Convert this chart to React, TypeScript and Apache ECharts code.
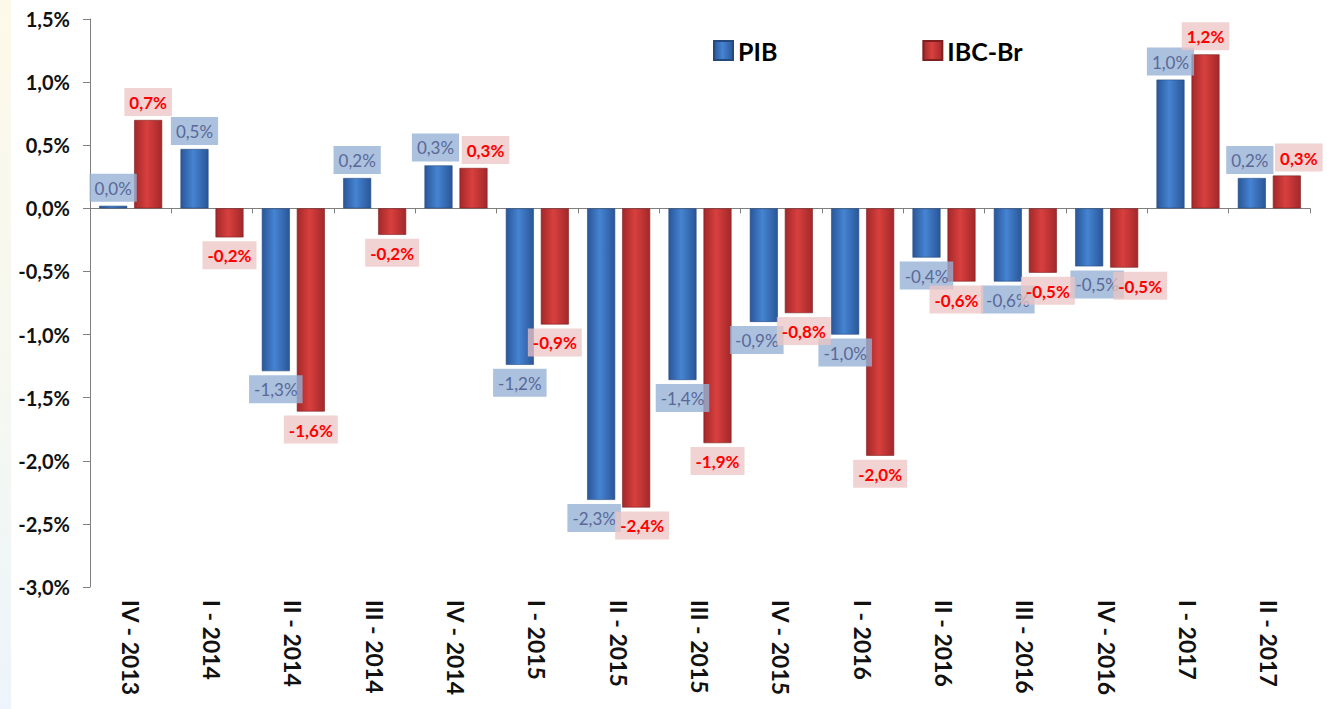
import React, { useEffect, useRef } from "react";
import * as echarts from "echarts";

const categories = [
  "IV - 2013", "I - 2014", "II - 2014", "III - 2014", "IV - 2014",
  "I - 2015", "II - 2015", "III - 2015", "IV - 2015", "I - 2016",
  "II - 2016", "III - 2016", "IV - 2016", "I - 2017", "II - 2017",
];
const pibValues = [0.02, 0.47, -1.29, 0.24, 0.34, -1.24, -2.31, -1.36, -0.9, -1.0, -0.39, -0.58, -0.46, 1.02, 0.24];
const ibcValues = [0.7, -0.23, -1.61, -0.21, 0.32, -0.92, -2.37, -1.86, -0.83, -1.96, -0.58, -0.51, -0.47, 1.22, 0.26];
const yMin = -3;
const yMax = 1.5;
const yStep = 0.5;

// label nudges (style only), keyed by category index
const pibLabelShift: Record<number, number> = { 4: -3, 6: -7, 8: -7, 11: 0, 12: 8, 14: -2 };
const ibcLabelShift: Record<number, number> = { 4: 12, 6: 6, 8: 5, 10: -5, 11: 5, 12: 16, 14: 12 };

const fmt = (v: number) => v.toFixed(1).replace(".", ",") + "%";
const FONT = "Lato, 'Open Sans', sans-serif";

const grad = (edge: string, mid: string) =>
  new echarts.graphic.LinearGradient(0, 0, 1, 0, [
    { offset: 0, color: edge },
    { offset: 0.45, color: mid },
    { offset: 1, color: edge },
  ]);

export default function App() {
  const ref = useRef<HTMLDivElement>(null);
  useEffect(() => {
    if (!ref.current) return;
    const chart = echarts.init(ref.current, null, { renderer: "svg" });
    const mkData = (vals: number[], shift: Record<number, number>) =>
      vals.map((v, i) => ({
        value: v,
        label: { position: v >= 0 ? "top" : "bottom", offset: [shift[i] || 0, 0] },
      }));
    chart.setOption({
      animation: false,
      backgroundColor: "#ffffff",
      graphic: [
        {
          type: "rect",
          left: 0,
          top: 0,
          shape: { x: 0, y: 0, width: 11, height: 709 },
          style: {
            fill: new echarts.graphic.LinearGradient(0, 0, 0, 1, [
              { offset: 0, color: "#fdf9ea" },
              { offset: 0.5, color: "#f6f8f0" },
              { offset: 1, color: "#edf4fb" },
            ]),
          },
          silent: true,
        },
      ],
      legend: {
        left: 708,
        top: 33,
        itemWidth: 19,
        itemHeight: 19,
        itemGap: 145,
        icon: "rect",
        textStyle: { fontFamily: FONT, fontWeight: "bold", fontSize: 25, color: "#000" },
        data: ["PIB", "IBC-Br"],
      },
      grid: { left: 90, right: 17, top: 19, bottom: 122, containLabel: false },
      xAxis: [
        {
          type: "category",
          data: categories,
          axisLine: { onZero: true, lineStyle: { color: "#7f7f7f", width: 1 } },
          axisTick: { show: true, length: 5, lineStyle: { color: "#7f7f7f" } },
          axisLabel: { show: false },
        },
        {
          type: "category",
          data: categories,
          position: "bottom",
          axisLine: { show: false, onZero: false },
          axisTick: { show: false },
          axisLabel: {
            rotate: -90,
            margin: 13,
            fontFamily: FONT,
            fontWeight: "bold",
            fontSize: 23,
            color: "#111",
          },
        },
      ],
      yAxis: {
        type: "value",
        min: yMin,
        max: yMax,
        interval: yStep,
        axisLine: { show: true, lineStyle: { color: "#7f7f7f" } },
        axisTick: { show: true, length: 7, lineStyle: { color: "#7f7f7f" } },
        splitLine: { show: false },
        axisLabel: {
          formatter: (v: number) => fmt(v),
          fontFamily: FONT,
          fontWeight: "bold",
          fontSize: 20,
          color: "#111",
          margin: 20,
        },
      },
      series: [
        {
          name: "PIB",
          type: "bar",
          xAxisIndex: 0,
          barWidth: 28,
          barGap: "25%",
          data: mkData(pibValues, pibLabelShift),
          itemStyle: { color: grad("#2a5698", "#4584d2"), borderColor: "#23497f", borderWidth: 0.6 },
          label: {
            show: true,
            distance: 4,
            formatter: (p: any) => fmt(p.value),
            fontFamily: FONT,
            fontSize: 17,
            color: "#5a6898",
            backgroundColor: "rgba(150,178,214,0.8)",
            padding: [6, 5, 5, 5],
          },
        },
        {
          name: "IBC-Br",
          type: "bar",
          xAxisIndex: 0,
          barWidth: 28,
          data: mkData(ibcValues, ibcLabelShift),
          itemStyle: { color: grad("#a3282a", "#d8403e"), borderColor: "#7e2020", borderWidth: 0.6 },
          label: {
            show: true,
            distance: 4,
            formatter: (p: any) => fmt(p.value),
            fontFamily: FONT,
            fontWeight: "bold",
            fontSize: 17,
            color: "#ff0000",
            backgroundColor: "rgba(236,196,196,0.75)",
            padding: [6, 5, 5, 5],
          },
        },
      ],
    });
    return () => chart.dispose();
  }, []);
  return (
    <div
      ref={ref}
      style={{ position: "fixed", left: 0, top: 0, width: 1327, height: 709 }}
    />
  );
}
